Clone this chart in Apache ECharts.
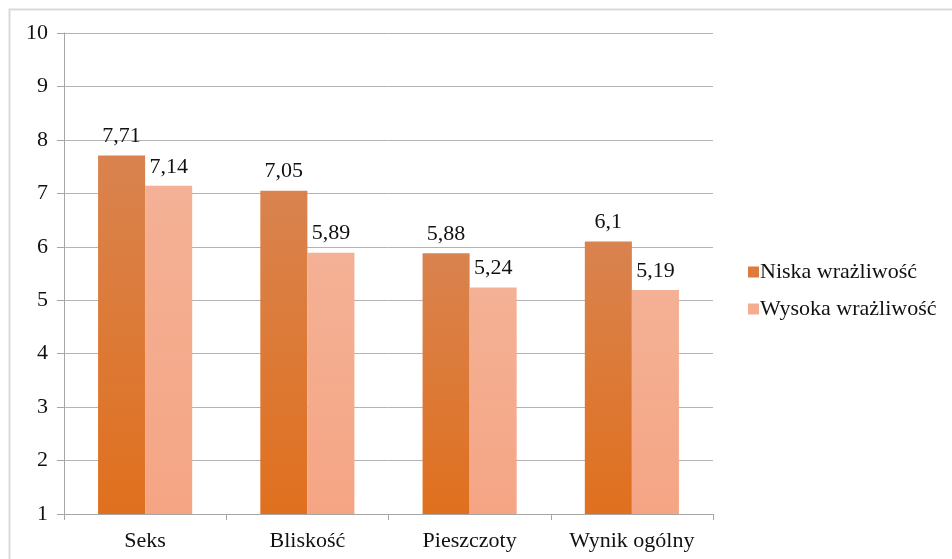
<!DOCTYPE html>
<html>
<head>
<meta charset="utf-8">
<script src="https://cdn.jsdelivr.net/npm/echarts@6/dist/echarts.min.js"></script>
<style>
html,body{margin:0;padding:0;background:#fff;}
#c{width:952px;height:559px;}
</style>
</head>
<body>
<div id="c"></div>
<script>
const categories = ['Seks', 'Bliskość', 'Pieszczoty', 'Wynik ogólny'];
const seriesNames = ['Niska wrażliwość', 'Wysoka wrażliwość'];
const niska = [7.71, 7.05, 5.88, 6.1];
const wysoka = [7.14, 5.89, 5.24, 5.19];
const yTicks = [1, 2, 3, 4, 5, 6, 7, 8, 9, 10];

const FONT = '"Liberation Serif", "DejaVu Serif", serif';
const FS = 22;
const chart = echarts.init(document.getElementById('c'), null, {renderer: 'canvas'});

function grad(top, bottom) {
  return new echarts.graphic.LinearGradient(0, 0, 0, 1, [
    {offset: 0, color: top},
    {offset: 1, color: bottom}
  ]);
}
const lbl = {
  show: true,
  position: 'top',
  distance: 8,
  fontFamily: FONT,
  fontSize: FS,
  color: '#111',
  formatter: p => String(p.value).replace('.', ',')
};

chart.setOption({
  animation: false,
  backgroundColor: '#fff',
  graphic: [{
    type: 'rect',
    shape: {x: 9.5, y: 9.5, width: 1000, height: 1000},
    style: {fill: 'none', stroke: '#d9d9d9', lineWidth: 2},
    silent: true
  }],
  grid: {left: 64, right: 239, top: 33, bottom: 45, containLabel: false},
  legend: {
    orient: 'vertical',
    left: 743,
    top: 256,
    itemWidth: 11,
    itemHeight: 11,
    itemGap: 15,
    icon: 'rect',
    textStyle: {fontFamily: FONT, fontSize: FS, color: '#111', padding: [0, 0, 0, -4]},
    data: [
      {name: seriesNames[0], itemStyle: {color: '#dd7a3c'}},
      {name: seriesNames[1], itemStyle: {color: '#f4ad8f'}}
    ]
  },
  xAxis: {
    type: 'category',
    data: categories,
    axisLine: {show: true, lineStyle: {color: '#a6a6a6', width: 1}},
    axisTick: {show: true, length: 6, alignWithLabel: false, interval: 0, lineStyle: {color: '#a6a6a6'}},
    axisLabel: {fontFamily: FONT, fontSize: FS, color: '#111', margin: 16, interval: 0, hideOverlap: false}
  },
  yAxis: {
    type: 'value',
    min: yTicks[0],
    max: yTicks[yTicks.length - 1],
    interval: 1,
    axisLine: {show: true, lineStyle: {color: '#a6a6a6', width: 1}},
    axisTick: {show: true, length: 7, lineStyle: {color: '#a6a6a6'}},
    axisLabel: {fontFamily: FONT, fontSize: FS, color: '#111', margin: 16},
    splitLine: {show: true, lineStyle: {color: '#b3b3b3', width: 1}}
  },
  series: [
    {
      name: seriesNames[0],
      type: 'bar',
      data: niska,
      barGap: '0%',
      barCategoryGap: '42%',
      itemStyle: {color: grad('#d9834f', '#e0701e')},
      label: lbl
    },
    {
      name: seriesNames[1],
      type: 'bar',
      data: wysoka,
      itemStyle: {color: grad('#f4b195', '#f5a584')},
      label: lbl
    }
  ]
});
</script>
</body>
</html>
